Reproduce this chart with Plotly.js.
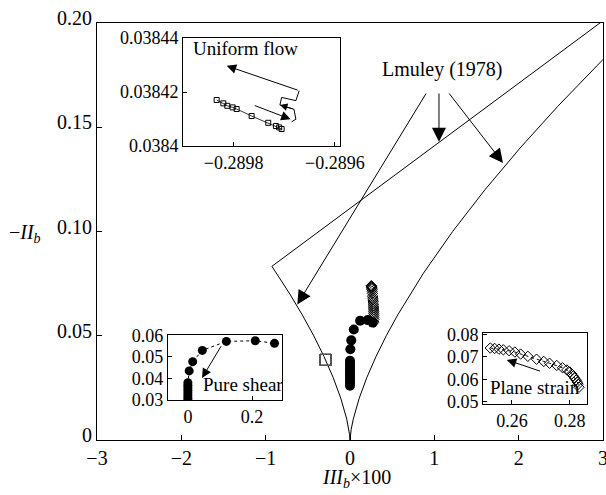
<!DOCTYPE html>
<html><head><meta charset="utf-8">
<script src="https://cdn.plot.ly/plotly-3.0.1.min.js"></script>
<style>html,body{margin:0;padding:0;background:#fff}#chart{width:606px;height:495px}</style>
</head><body><div id="chart"></div>
<script>
// Lumley (1978) anisotropy-invariant map boundary
const lumleyX = [3.0, 2.463, 2.016, 1.6, 1.217, 0.871, 0.566, 0.430, 0.308, 0.2, 0.109, 0.0385, 0.0136, 0.0048, 0,
                 -0.0048, -0.0136, -0.0385, -0.109, -0.2, -0.308, -0.430, -0.566, -0.713, -0.926, 3.0];
const lumleyY = [0.1825, 0.16, 0.14, 0.12, 0.10, 0.08, 0.06, 0.05, 0.04, 0.03, 0.02, 0.01, 0.005, 0.0025, 0,
                 0.0025, 0.005, 0.01, 0.02, 0.03, 0.04, 0.05, 0.06, 0.07, 0.0833, 0.2011];

// Pure shear (filled circles)
const pureShearX = [0, 0, 0, 0, 0, 0, 0, 0, 0, 0, 0, 0.004, 0.015, 0.045, 0.12, 0.21, 0.27];
const pureShearY = [0.0260, 0.0272, 0.0284, 0.0296, 0.0308, 0.0320, 0.0332, 0.0344, 0.0356, 0.0368, 0.0380,
                    0.0435, 0.0478, 0.0530, 0.0572, 0.0575, 0.0563];

// Plane strain (open diamonds)
const planeStrainX = [0.2525, 0.2540, 0.2555, 0.2570, 0.2590, 0.2610, 0.2630, 0.2655, 0.2685, 0.2710, 0.2730,
                      0.2755, 0.2775, 0.2790, 0.2800, 0.2807, 0.2812, 0.2817, 0.2822, 0.2826, 0.2829, 0.2832];
const planeStrainY = [0.0740, 0.0738, 0.0735, 0.0732, 0.0728, 0.0722, 0.0713, 0.0703, 0.0690, 0.0680, 0.0672,
                      0.0662, 0.0652, 0.0642, 0.0633, 0.0624, 0.0615, 0.0606, 0.0597, 0.0588, 0.0578, 0.0565];

// Uniform flow (open squares)
const uniformFlowX = [-0.2898335, -0.2898204, -0.2898125, -0.2898019, -0.289794, -0.2897644, -0.2897316, -0.2897164, -0.2897099, -0.2897051];
const uniformFlowY = [0.03841704, 0.0384158, 0.0384149, 0.0384143, 0.0384137, 0.0384111, 0.0384086, 0.0384074, 0.0384069, 0.0384063];
// Uniform flow trajectory bracket
const uniformPathX = [-0.2896704, -0.2896769, -0.2897051, -0.2897085, -0.2896808, -0.2896769, -0.2896854];
const uniformPathY = [0.0384205, 0.0384168, 0.0384180, 0.0384152, 0.0384136, 0.0384099, 0.0384090];

// Tick values / labels
const mainXTicks = [-3, -2, -1, 0, 1, 2, 3];
const mainXLabels = ['\u22123', '\u22122', '\u22121', '0', '1', '2', '3'];
const mainYTicks = [0, 0.05, 0.10, 0.15, 0.20];
const mainYLabels = ['0', '0.05', '0.10', '0.15', '0.20'];
const ufXTicks = [-0.2898, -0.2896];
const ufXLabels = ['\u22120.2898', '\u22120.2896'];
const ufYTicks = [0.0384, 0.03842, 0.03844];
const ufYLabels = ['0.0384', '0.03842', '0.03844'];
const psXTicks = [0, 0.2];
const psXLabels = ['0', '0.2'];
const psYTicks = [0.03, 0.04, 0.05, 0.06];
const psYLabels = ['0.03', '0.04', '0.05', '0.06'];
const plXTicks = [0.26, 0.28];
const plXLabels = ['0.26', '0.28'];
const plYTicks = [0.05, 0.06, 0.07, 0.08];
const plYLabels = ['0.05', '0.06', '0.07', '0.08'];

const FONT = 'Liberation Serif, Times New Roman, serif';

const traces = [
  {x: lumleyX, y: lumleyY, xaxis: 'x', yaxis: 'y', mode: 'lines', line: {color: '#000', width: 1}, hoverinfo: 'skip'},
  {x: pureShearX, y: pureShearY, xaxis: 'x', yaxis: 'y', mode: 'markers', marker: {symbol: 'circle', size: 10, color: '#000'}},
  {x: planeStrainX, y: planeStrainY, xaxis: 'x', yaxis: 'y', mode: 'markers', marker: {symbol: 'diamond-open', size: 8, color: '#000', line: {width: 1}}},
  {x: uniformFlowX, y: uniformFlowY, xaxis: 'x', yaxis: 'y', mode: 'markers', marker: {symbol: 'square-open', size: 11, color: '#555', line: {width: 1}}},
  // inset 1: uniform flow
  {x: uniformFlowX, y: uniformFlowY, xaxis: 'x2', yaxis: 'y2', mode: 'lines+markers', line: {color: '#000', width: 0.8}, marker: {symbol: 'square-open', size: 5, color: '#000', line: {width: 1}}},
  {x: uniformPathX, y: uniformPathY, xaxis: 'x2', yaxis: 'y2', mode: 'lines', line: {color: '#000', width: 1}},
  // inset 2: pure shear
  {x: pureShearX, y: pureShearY, xaxis: 'x3', yaxis: 'y3', mode: 'lines+markers', line: {color: '#000', width: 1, dash: 'dot'}, marker: {symbol: 'circle', size: 9, color: '#000'}},
  // inset 3: plane strain
  {x: planeStrainX, y: planeStrainY, xaxis: 'x4', yaxis: 'y4', mode: 'lines+markers', line: {color: '#000', width: 1, dash: 'dot'}, marker: {symbol: 'diamond-open', size: 8, color: '#000', line: {width: 1}}}
];

function frame(extra) {
  return Object.assign({
    showline: true, mirror: true, linecolor: '#000', linewidth: 1,
    ticks: 'inside', ticklen: 4, tickcolor: '#000', showgrid: false, zeroline: false,
    ticklabeloverflow: 'allow',
    tickfont: {family: FONT, size: 18, color: '#000'}
  }, extra);
}

const arrowStyle = {showarrow: true, arrowhead: 2, arrowsize: 2.8, arrowwidth: 1, arrowcolor: '#000', text: ''};
const textStyle = {showarrow: false, xanchor: 'center', yanchor: 'middle'};

const annotations = [
  Object.assign({xref: 'x', yref: 'y', x: 1.10, y: 0.1775, text: 'Lmuley (1978)', font: {family: FONT, size: 20, color: '#000'}}, textStyle),
  Object.assign({xref: 'x', yref: 'y', axref: 'x', ayref: 'y', x: -0.625, y: 0.065, ax: 0.913, ay: 0.1669}, arrowStyle),
  Object.assign({xref: 'x', yref: 'y', axref: 'x', ayref: 'y', x: 1.055, y: 0.143, ax: 1.055, ay: 0.1669}, arrowStyle),
  Object.assign({xref: 'x', yref: 'y', axref: 'x', ayref: 'y', x: 1.814, y: 0.1329, ax: 1.162, ay: 0.1669}, arrowStyle),
  Object.assign({xref: 'paper', yref: 'paper', x: -0.142, y: 0.496, text: '\u2212<i>II</i><sub><i>b</i></sub>', font: {family: FONT, size: 20, color: '#000'}}, textStyle),
  Object.assign({xref: 'paper', yref: 'paper', x: 0.512, y: -0.0935, text: '<i>III</i><sub><i>b</i></sub>\u00d7100', font: {family: FONT, size: 20, color: '#000'}}, textStyle),
  // inset captions
  Object.assign({xref: 'paper', yref: 'paper', x: 0.2925, y: 0.940, text: 'Uniform flow', font: {family: FONT, size: 19, color: '#000'}}, textStyle),
  Object.assign({xref: 'paper', yref: 'paper', x: 0.2885, y: 0.132, text: 'Pure shear', font: {family: FONT, size: 19, color: '#000'}}, textStyle),
  Object.assign({xref: 'paper', yref: 'paper', x: 0.866, y: 0.125, text: 'Plane strain', font: {family: FONT, size: 19, color: '#000'}}, textStyle),
  // inset arrows
  Object.assign({xref: 'x2', yref: 'y2', axref: 'x2', ayref: 'y2', x: -0.2898137, y: 0.0384297, ax: -0.2896704, ay: 0.0384205}, arrowStyle, {arrowsize: 1.9}),
  Object.assign({xref: 'x2', yref: 'y2', axref: 'x2', ayref: 'y2', x: -0.2896873, y: 0.0384099, ax: -0.2897612, ay: 0.0384152}, arrowStyle, {arrowsize: 1.9}),
  Object.assign({xref: 'x2', yref: 'y2', axref: 'x2', ayref: 'y2', x: -0.2897085, y: 0.0384152, ax: -0.2896808, ay: 0.0384136}, arrowStyle, {arrowsize: 1.5}),
  Object.assign({xref: 'x3', yref: 'y3', axref: 'x3', ayref: 'y3', x: 0.044, y: 0.0402, ax: 0.106, ay: 0.0556}, arrowStyle, {arrowsize: 1.9}),
  Object.assign({xref: 'x4', yref: 'y4', axref: 'x4', ayref: 'y4', x: 0.2582, y: 0.0687, ax: 0.2702, ay: 0.06347}, arrowStyle, {arrowsize: 1.9})
];

const layout = {
  width: 606, height: 495,
  margin: {l: 97, r: 3, t: 23, b: 55},
  paper_bgcolor: '#fff', plot_bgcolor: '#fff',
  showlegend: false,
  font: {family: FONT, color: '#000'},
  xaxis: frame({domain: [0, 1], anchor: 'y', range: [-3, 3], tickvals: mainXTicks, ticktext: mainXLabels, tickfont: {family: FONT, size: 20, color: '#000'}, ticklen: 5}),
  yaxis: frame({domain: [0, 1], anchor: 'x', range: [0, 0.2], tickvals: mainYTicks, ticktext: mainYLabels, tickfont: {family: FONT, size: 20, color: '#000'}, ticklen: 5, ticklabelshift: -5}),
  xaxis2: frame({domain: [0.170, 0.480], anchor: 'y2', range: [-0.2899, -0.28959], tickvals: ufXTicks, ticktext: ufXLabels}),
  yaxis2: frame({domain: [0.705, 0.964], anchor: 'x2', range: [0.0384, 0.03844], tickvals: ufYTicks, ticktext: ufYLabels}),
  xaxis3: frame({domain: [0.140, 0.366], anchor: 'y3', range: [-0.0625, 0.294], tickvals: psXTicks, ticktext: psXLabels}),
  yaxis3: frame({domain: [0.096, 0.252], anchor: 'x3', range: [0.03, 0.0602], tickvals: psYTicks, ticktext: psYLabels}),
  xaxis4: frame({domain: [0.763, 0.968], anchor: 'y4', range: [0.25, 0.2859], tickvals: plXTicks, ticktext: plXLabels}),
  yaxis4: frame({domain: [0.0863, 0.2566], anchor: 'x4', range: [0.049, 0.0807], tickvals: plYTicks, ticktext: plYLabels}),
  annotations: annotations
};

Plotly.newPlot('chart', traces, layout, {staticPlot: true, displayModeBar: false});
</script>
</body></html>
